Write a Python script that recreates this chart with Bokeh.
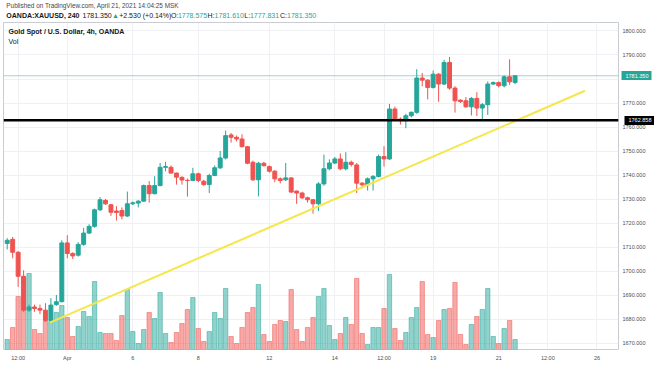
from bokeh.plotting import figure
from bokeh.layouts import column
from bokeh.models import (Range1d, FixedTicker, Label, Span,
                          ColumnDataSource, NumeralTickFormatter, LinearAxis)
from bokeh.core.properties import value
from bokeh.embed import file_html
from bokeh.resources import INLINE

# ---------------- data (4h candles, OANDA:XAUUSD) ----------------
opens = [1711.5, 1713.2, 1707.8, 1697.8, 1683.7, 1685.0, 1684.4, 1683.7, 1679.3, 1686.0,
         1687.2, 1711.7, 1707.3, 1706.6, 1711.1, 1715.8, 1718.6, 1725.5, 1729.4, 1727.6,
         1725.0, 1725.2, 1722.9, 1728.0, 1728.3, 1729.1, 1735.6, 1732.2, 1735.6, 1743.2,
         1743.2, 1740.8, 1739.0, 1737.8, 1737.7, 1740.5, 1737.4, 1736.0, 1739.8, 1743.0,
         1747.1, 1756.7, 1755.7, 1755.0, 1751.8, 1745.3, 1738.0, 1744.9, 1743.5, 1741.6,
         1738.4, 1738.0, 1738.8, 1733.3, 1732.5, 1730.5, 1729.7, 1728.0, 1736.3, 1742.6,
         1745.0, 1746.7, 1742.6, 1745.3, 1744.2, 1736.6, 1735.9, 1738.4, 1739.4, 1747.7,
         1746.7, 1767.5, 1763.3, 1762.6, 1764.7, 1766.1, 1780.4, 1779.5, 1776.5, 1782.0,
         1777.9, 1786.9, 1776.2, 1771.2, 1770.9, 1768.4, 1771.9, 1767.9, 1769.3, 1777.9,
         1778.5, 1777.2, 1780.9, 1778.575]
highs = [1713.7, 1714.2, 1708.3, 1700.3, 1686.0, 1686.0, 1686.0, 1686.6, 1688.7, 1690.0,
         1712.8, 1714.9, 1707.8, 1712.0, 1718.0, 1719.5, 1726.0, 1730.8, 1730.0, 1728.0,
         1727.0, 1726.5, 1733.1, 1729.0, 1729.5, 1736.0, 1737.5, 1739.5, 1745.0, 1745.5,
         1744.0, 1741.0, 1739.5, 1738.5, 1743.0, 1741.0, 1738.0, 1740.5, 1744.0, 1750.0,
         1758.5, 1757.5, 1756.5, 1757.0, 1752.0, 1746.0, 1745.5, 1745.5, 1744.0, 1742.0,
         1739.0, 1745.0, 1739.0, 1733.5, 1733.0, 1731.0, 1730.0, 1737.0, 1748.5, 1746.5,
         1747.5, 1749.0, 1749.5, 1746.0, 1745.0, 1737.0, 1739.0, 1740.0, 1748.5, 1752.0,
         1769.6, 1768.5, 1764.0, 1765.5, 1766.5, 1784.1, 1782.5, 1780.0, 1783.5, 1782.5,
         1788.0, 1789.2, 1777.0, 1771.5, 1772.5, 1772.5, 1774.5, 1770.0, 1779.0, 1779.0,
         1779.0, 1781.5, 1788.2, 1781.61]
lows = [1709.0, 1705.3, 1693.4, 1683.0, 1683.0, 1683.0, 1682.0, 1679.0, 1679.0, 1685.5,
        1687.0, 1705.3, 1705.0, 1706.0, 1710.5, 1715.5, 1718.0, 1725.0, 1727.5, 1723.0,
        1721.0, 1721.5, 1722.5, 1727.5, 1726.5, 1729.0, 1728.5, 1732.0, 1735.3, 1741.5,
        1740.5, 1736.0, 1736.0, 1731.0, 1737.5, 1737.0, 1735.5, 1732.5, 1739.5, 1742.5,
        1746.5, 1753.5, 1754.0, 1751.5, 1744.5, 1737.5, 1731.1, 1743.5, 1741.0, 1737.0,
        1736.5, 1737.5, 1732.5, 1728.0, 1730.0, 1728.5, 1723.9, 1725.0, 1735.5, 1742.0,
        1744.5, 1742.0, 1742.0, 1743.5, 1732.5, 1734.5, 1733.5, 1733.5, 1739.0, 1743.5,
        1746.3, 1762.5, 1761.0, 1759.5, 1764.0, 1765.5, 1777.0, 1771.5, 1776.0, 1770.5,
        1777.5, 1775.5, 1766.0, 1770.0, 1768.0, 1764.8, 1764.6, 1763.3, 1765.0, 1777.5,
        1776.5, 1776.5, 1777.5, 1777.831]
closes = [1712.8, 1707.8, 1697.8, 1683.7, 1685.0, 1684.4, 1683.7, 1679.3, 1685.8, 1687.2,
          1711.7, 1707.3, 1706.3, 1711.1, 1715.8, 1718.6, 1725.5, 1729.7, 1728.0, 1724.5,
          1724.4, 1722.9, 1728.0, 1728.4, 1729.1, 1735.6, 1732.2, 1735.6, 1743.2, 1743.5,
          1740.8, 1739.1, 1737.9, 1737.7, 1740.5, 1737.7, 1736.0, 1739.8, 1743.0, 1747.1,
          1756.4, 1755.7, 1755.0, 1751.8, 1744.9, 1738.0, 1744.9, 1743.9, 1741.6, 1738.4,
          1737.7, 1738.8, 1732.9, 1732.5, 1730.5, 1729.7, 1728.0, 1736.3, 1742.6, 1745.0,
          1746.7, 1742.6, 1745.3, 1744.4, 1736.6, 1735.9, 1738.4, 1739.4, 1747.7, 1746.7,
          1767.5, 1763.3, 1762.6, 1764.7, 1766.1, 1780.4, 1779.5, 1776.5, 1782.0, 1777.9,
          1786.9, 1776.2, 1770.9, 1770.6, 1768.4, 1771.9, 1767.9, 1769.3, 1777.9, 1778.5,
          1777.2, 1780.9, 1778.82, 1781.35]
volumes = [10, 22, 53, 72, 76, 20, 16, 28, 28, 37, 44, 32, 13, 23, 38, 33, 68, 17, 16,
           16, 9, 34, 60, 18, 6, 20, 37, 31, 57, 16, 7, 17, 26, 40, 52, 21, 8, 18,
           37, 31, 61, 13, 6, 22, 37, 42, 65, 15, 8, 25, 29, 28, 60, 20, 8, 22,
           32, 53, 61, 24, 10, 16, 32, 25, 71, 16, 5, 22, 22, 41, 75, 21, 9,
           17, 32, 42, 68, 15, 12, 29, 40, 41, 67, 15, 5, 25, 33, 40, 61, 13, 6, 21, 29, 10]

tick_pos = [2, 11, 23, 35, 48, 60, 69, 78, 90, 99, 108]
tick_labels = ["12:00", "Apr", "6", "8", "12", "14", "12:00", "19", "21", "12:00", "26"]
price_ticks = list(range(1670, 1801, 10))

support_level = 1762.858
last_price = 1781.35
trend_x = [7.8, 105.8]
trend_y = [1678.5, 1775.1]

# header texts (legend line of the snapshot)
hdr_text = ["Published on TradingView.com, April 21, 2021 14:04:25 MSK",
            "OANDA:XAUUSD, 240", "1781.350", "\u25b2", "+2.530 (+0.14%)",
            "O:", "1778.575", "H:", "1781.610", "L:", "1777.831", "C:", "1781.350"]

# ---------------- styling ----------------
UP, DN = "#26a69a", "#ef5350"
DARK = "#131722"
FONT = "Liberation Sans"
X0, X1 = -0.68, 111.94
Y0, Y1 = 1667.3, 1803.54
FIG_H, BT, BB = 345, 1, 17
FRAME_H = FIG_H - BT - BB

idx = list(range(len(opens)))
cols = [UP if c >= o else DN for o, c in zip(opens, closes)]
src = ColumnDataSource(dict(x=idx, o=opens, h=highs, l=lows, c=closes, v=volumes, col=cols,
                            top=[max(o, c) for o, c in zip(opens, closes)],
                            bot=[min(o, c) for o, c in zip(opens, closes)]))

# ---- header strip ----
hdr = figure(width=654, height=21, output_backend="svg", toolbar_location=None,
             x_range=Range1d(0, 654), y_range=Range1d(21, 0), min_border=0)
hdr.axis.visible = False
hdr.grid.visible = False
hdr.outline_line_color = None
hsrc = ColumnDataSource(dict(
    x=[3, 3, 84, 115.5, 123, 178, 185.5, 217, 224.5, 256, 262, 294, 301.5],
    y=[5.2] + [14.5] * 12,
    t=hdr_text,
    c=["#434651", DARK, DARK, UP, DARK, DARK, UP, DARK, UP, DARK, UP, DARK, UP],
    s=["6.4px", "7px"] + ["7px"] * 11,
    f=["normal", "bold"] + ["normal"] * 11))
hdr.text(x="x", y="y", text="t", text_color="c", text_font_size="s", text_font_style="f",
         text_font=value(FONT), text_baseline="middle", text_align="left", source=hsrc)

# ---- main chart ----
p = figure(width=654, height=FIG_H, output_backend="svg", toolbar_location=None,
           x_range=Range1d(X0, X1), y_range=Range1d(Y0, Y1),
           y_axis_location="right", min_border_left=3, min_border_right=35,
           min_border_top=BT, min_border_bottom=BB)
p.extra_y_ranges = {"vol": Range1d(0, FRAME_H)}
p.background_fill_color = "white"
p.border_fill_color = "white"
p.outline_line_color = "#c9ccd3"

p.xgrid.ticker = FixedTicker(ticks=tick_pos)
p.ygrid.ticker = FixedTicker(ticks=price_ticks)
for g in (p.xgrid, p.ygrid):
    g.grid_line_color = "#eef0f4"
    g.grid_line_width = 1

xa = p.xaxis[0]
xa.ticker = FixedTicker(ticks=tick_pos)
xa.major_label_overrides = {t: s for t, s in zip(tick_pos, tick_labels)}
ya = p.yaxis[0]
ya.ticker = FixedTicker(ticks=price_ticks)
ya.formatter = NumeralTickFormatter(format="0.000")
ya.major_label_overrides = {1780: ""}

for ax in (xa, ya):
    ax.axis_line_color = None
    ax.major_tick_line_color = None
    ax.minor_tick_line_color = None
    ax.major_tick_out = 0
    ax.major_tick_in = 0
    ax.major_label_text_font = FONT
    ax.major_label_text_font_size = "5.5px"
    ax.major_label_text_color = "#4a4d57"
xa.major_label_standoff = 5
ya.major_label_standoff = 4

# price tags on the price scale: outer axes (zero net width) whose thick inward tick
# is the tag and whose label is the price
for lvl, colr in ((last_price, UP), (support_level, "black")):
    tag = LinearAxis(ticker=FixedTicker(ticks=[lvl]),
                     formatter=NumeralTickFormatter(format="0.000"), level="overlay")
    tag.axis_line_color = None
    tag.minor_tick_line_color = None
    tag.minor_tick_in = 0
    tag.minor_tick_out = 0
    tag.major_tick_in = 27
    tag.major_tick_out = 3
    tag.major_tick_line_color = colr
    tag.major_tick_line_width = 9
    tag.major_tick_line_cap = "butt"
    tag.major_label_standoff = -26
    tag.major_label_text_font = FONT
    tag.major_label_text_font_size = "5.5px"
    tag.major_label_text_color = "white"
    p.add_layout(tag, "right")

# volume
p.vbar(x="x", top="v", bottom=0, width=0.8, color="col", alpha=0.5, source=src, y_range_name="vol")
# candles
p.segment(x0="x", y0="h", x1="x", y1="l", color="col", line_width=1, source=src)
p.vbar(x="x", top="top", bottom="bot", width=0.72, fill_color="col", line_color="col", source=src)

# lines
p.add_layout(Span(location=last_price, dimension="width", line_color=UP, line_alpha=0.45, line_width=1))
p.line(trend_x, trend_y, line_color="#f5e64a", line_width=2)
p.add_layout(Span(location=support_level, dimension="width", line_color="black", line_width=2.5))

p.add_layout(Label(x=8, y=10, x_units="canvas", y_units="canvas", text="Gold Spot / U.S. Dollar, 4h, OANDA",
                   text_color=DARK, text_font=FONT, text_font_size="7px", text_font_style="bold",
                   text_baseline="middle"))
p.add_layout(Label(x=8, y=19.5, x_units="canvas", y_units="canvas", text="Vol",
                   text_color=DARK, text_font=FONT, text_font_size="7px", text_baseline="middle"))

layout = column(hdr, p, spacing=0)
open("out.html", "w").write(file_html(layout, INLINE))
